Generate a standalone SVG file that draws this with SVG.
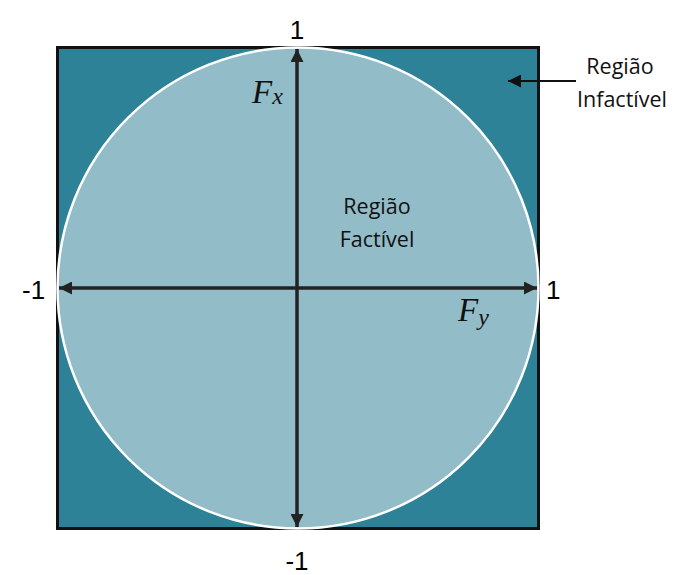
<svg xmlns="http://www.w3.org/2000/svg" width="677" height="575" viewBox="0 0 677 575">
<style>
.num{font-family:"Liberation Sans",Arial,sans-serif;font-size:26px;fill:#000}
.lbl{font-family:"Open Sans","Liberation Sans",sans-serif;font-size:21.5px;fill:#111}
.var{font-family:"Liberation Serif","Times New Roman",serif;font-style:italic;fill:#111}
.ax{stroke:#222;stroke-width:3.5;fill:none}
</style>
<defs>
<marker id="ah" viewBox="0 0 10 10" refX="10" refY="5" markerWidth="17" markerHeight="13" markerUnits="userSpaceOnUse" orient="auto">
<path d="M0,0 L10,5 L0,10 z" fill="#111"/>
</marker>
<marker id="ah2" viewBox="0 0 10 10" refX="10" refY="5" markerWidth="20" markerHeight="13" markerUnits="userSpaceOnUse" orient="auto">
<path d="M0,0 L10,5 L0,10 z" fill="#222"/>
</marker>
</defs>
<g id="infeasible">
<rect x="57.5" y="47.5" width="481" height="481" fill="#2E8297" stroke="#111" stroke-width="3"/>
</g>
<g id="feasible">
<circle cx="298" cy="288" r="240.5" fill="#93BCC9" stroke="#fff" stroke-width="2.5"/>
</g>
<g id="connectors">
<line class="ax" x1="297" y1="288" x2="297" y2="49" marker-end="url(#ah2)"/>
<line class="ax" x1="297" y1="288" x2="297" y2="527" marker-end="url(#ah2)"/>
<line class="ax" x1="297" y1="288" x2="59" y2="288" marker-end="url(#ah2)"/>
<line class="ax" x1="297" y1="288" x2="537" y2="288" marker-end="url(#ah2)"/>
<line x1="576" y1="81" x2="508" y2="81" stroke="#111" stroke-width="2" marker-end="url(#ah)"/>
</g>
<g id="labels">
<text class="num" x="297" y="39" text-anchor="middle">1</text>
<text class="num" x="297" y="570" text-anchor="middle">-1</text>
<text class="num" x="22" y="299">-1</text>
<text class="num" x="546" y="299">1</text>
<text class="var" x="252" y="103" font-size="33">F<tspan font-size="24" dy="1">x</tspan></text>
<text class="var" x="458" y="321" font-size="33">F<tspan font-size="24" dy="4">y</tspan></text>
<text class="lbl" x="620" y="74" text-anchor="middle">Região</text>
<text class="lbl" x="622" y="107" text-anchor="middle">Infactível</text>
<text class="lbl" x="377" y="214" text-anchor="middle">Região</text>
<text class="lbl" x="377" y="247" text-anchor="middle">Factível</text>
</g>
</svg>
